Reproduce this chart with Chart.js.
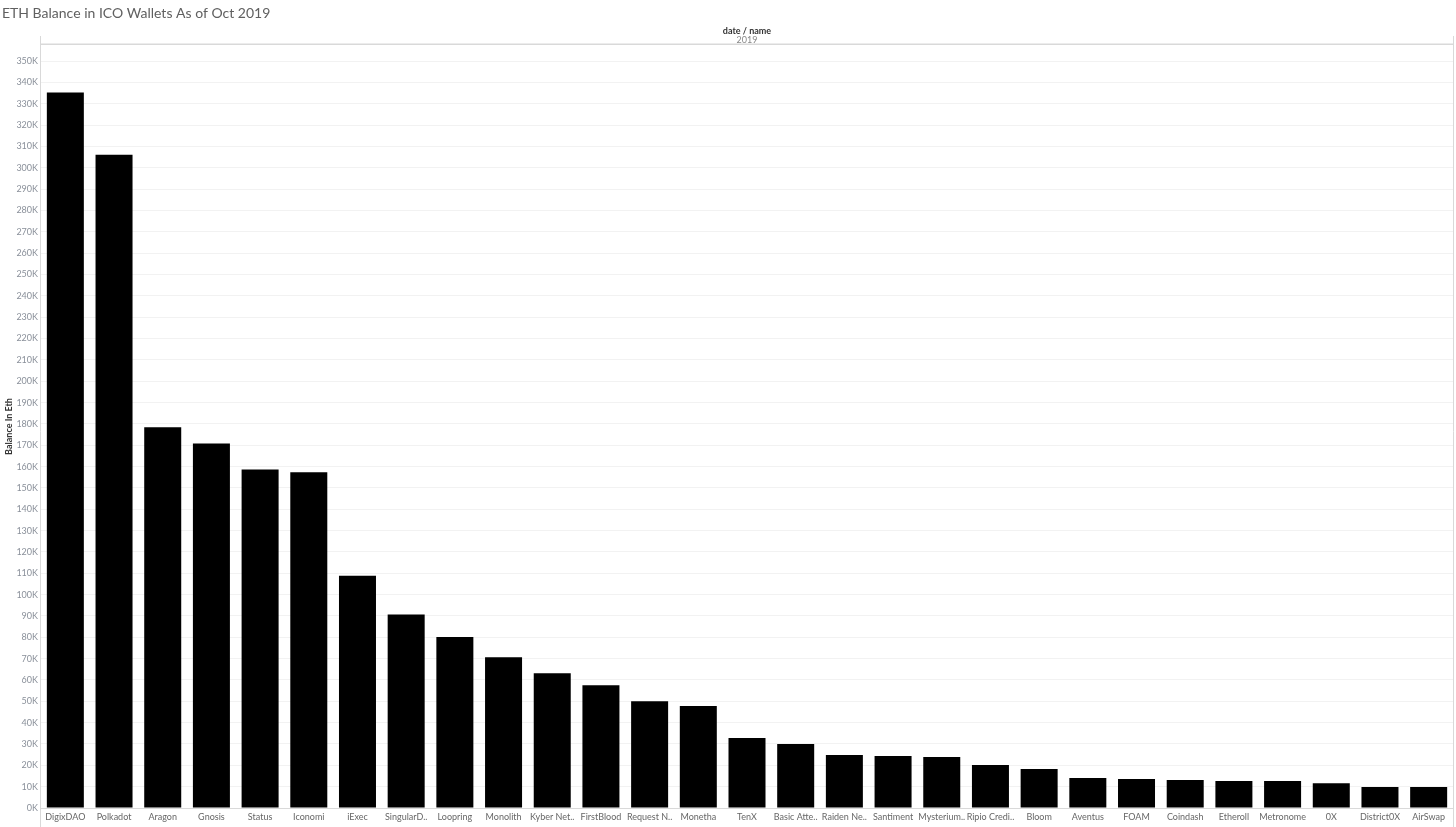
<!DOCTYPE html>
<html>
<head>
<meta charset="utf-8">
<title>ETH Balance in ICO Wallets</title>
<script src="https://cdn.jsdelivr.net/npm/chart.js@4/dist/chart.umd.min.js"></script>
<style>
  html, body { margin: 0; padding: 0; background: #fff; }
  #wrap { position: relative; width: 1456px; height: 827px; }
</style>
</head>
<body>
<div id="wrap"><canvas id="ethChart"></canvas></div>
<script>
// Wallet names as shown on the axis (Tableau truncates long ones)
const names = [
    'DigixDAO', 'Polkadot', 'Aragon', 'Gnosis', 'Status', 'Iconomi', 'iExec',
    'SingularD..', 'Loopring', 'Monolith', 'Kyber Net..', 'FirstBlood',
    'Request N..', 'Monetha', 'TenX', 'Basic Atte..', 'Raiden Ne..', 'Santiment',
    'Mysterium..', 'Ripio Credi..', 'Bloom', 'Aventus', 'FOAM', 'Coindash',
    'Etheroll', 'Metronome', '0X', 'District0X', 'AirSwap'
];

// ETH balance per wallet
const balances = [
    335300, 306200, 178500, 170800, 158600, 157400, 108800,
    90700, 80200, 70700, 63200, 57500,
    50000, 47800, 32800, 30000, 24800, 24400,
    23900, 20100, 18300, 14100, 13600, 13100,
    12700, 12600, 11600, 9800, 9800
];

// y axis tick values (0K .. 350K)
const yTicks = [
    0, 10000, 20000, 30000, 40000, 50000, 60000, 70000, 80000, 90000,
    100000, 110000, 120000, 130000, 140000, 150000, 160000, 170000, 180000,
    190000, 200000, 210000, 220000, 230000, 240000, 250000, 260000, 270000,
    280000, 290000, 300000, 310000, 320000, 330000, 340000, 350000
];

const yMax = 357600;

const FONT = 'Lato, "Open Sans", sans-serif';

// Header texts and frame lines, Tableau style
const frame = {
    id: 'frame',
    afterDraw(chart) {
        const { ctx, chartArea: a } = chart;
        ctx.save();

        // title
        ctx.fillStyle = '#606060';
        ctx.font = '14px ' + FONT;
        ctx.textBaseline = 'middle';
        ctx.textAlign = 'left';
        ctx.fillText('ETH Balance in ICO Wallets As of Oct 2019', 2, 13);

        // column header
        const mid = (a.left + a.right) / 2;
        ctx.textAlign = 'center';
        ctx.fillStyle = '#333';
        ctx.font = 'bold 9px ' + FONT;
        ctx.fillText('date / name', mid, 31);
        ctx.fillStyle = '#888';
        ctx.font = '9px ' + FONT;
        ctx.fillText('2019', mid, 40.5);

        // lines
        ctx.strokeStyle = '#d9d9d9';
        ctx.lineWidth = 1;
        ctx.beginPath();
        ctx.moveTo(a.left, 44.5); ctx.lineTo(a.right, 44.5);
        ctx.moveTo(a.left - 0.5, 36); ctx.lineTo(a.left - 0.5, 827);
        ctx.moveTo(a.right + 0.5, 36); ctx.lineTo(a.right + 0.5, 827);
        ctx.moveTo(a.left, a.bottom + 0.5); ctx.lineTo(a.right, a.bottom + 0.5);
        ctx.stroke();
        ctx.strokeStyle = '#ececec';
        ctx.beginPath();
        ctx.moveTo(a.left, 43.5); ctx.lineTo(a.right, 43.5);
        ctx.stroke();

        ctx.restore();
    }
};

new Chart(document.getElementById('ethChart'), {
    type: 'bar',
    data: {
        labels: names,
        datasets: [{
            label: 'Balance In Eth',
            data: balances,
            backgroundColor: '#000',
            borderWidth: 0,
            categoryPercentage: 1,
            barPercentage: 0.76
        }]
    },
    options: {
        responsive: true,
        maintainAspectRatio: false,
        animation: false,
        layout: { padding: { top: 45, right: 3, left: 0, bottom: 0 } },
        plugins: {
            legend: { display: false },
            tooltip: { enabled: false }
        },
        scales: {
            x: {
                grid: { display: false, drawTicks: false },
                border: { display: false },
                ticks: {
                    color: '#666',
                    font: { family: FONT, size: 9 },
                    padding: 4,
                    maxRotation: 0,
                    autoSkip: false
                },
                afterFit(scale) { scale.height = 19; }
            },
            y: {
                min: 0,
                max: yMax,
                grid: { color: '#f2f2f2', drawTicks: false },
                border: { display: false },
                title: {
                    display: true,
                    text: 'Balance In Eth',
                    color: '#333',
                    font: { family: FONT, size: 9, weight: 'bold' },
                    padding: { top: 4, bottom: 0 }
                },
                ticks: {
                    color: '#8a909a',
                    font: { family: FONT, size: 9 },
                    padding: 3,
                    autoSkip: false,
                    callback: v => (v / 1000) + 'K'
                },
                afterBuildTicks(scale) {
                    scale.ticks = yTicks.map(v => ({ value: v }));
                },
                afterFit(scale) { scale.width = 41; }
            }
        }
    },
    plugins: [frame]
});
</script>
</body>
</html>
